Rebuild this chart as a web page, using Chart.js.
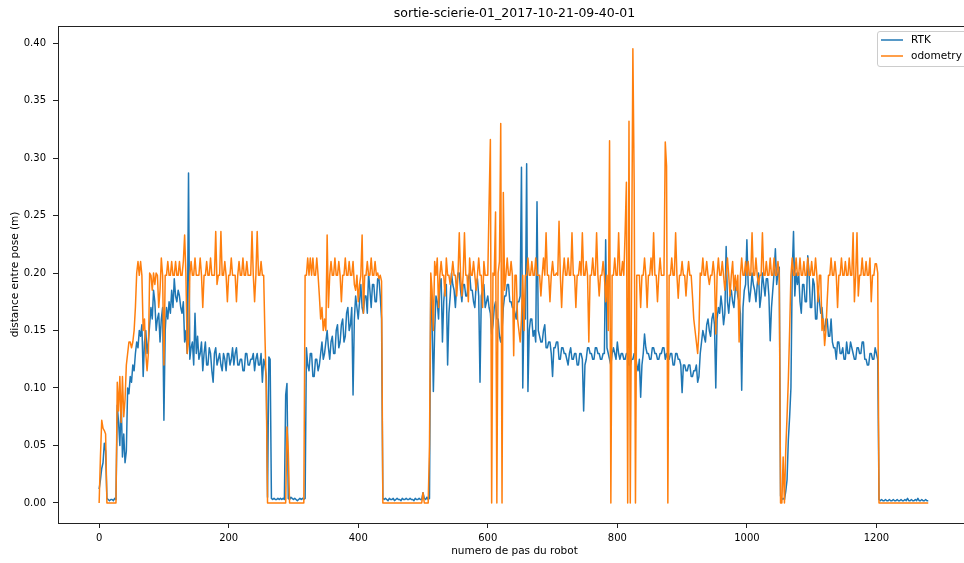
<!DOCTYPE html>
<html><head><meta charset="utf-8">
<script src="https://cdn.jsdelivr.net/npm/chart.js@4/dist/chart.umd.min.js"></script>
<style>html,body{margin:0;padding:0;background:#fff;overflow:hidden;}canvas{display:block;}</style>
</head><body>
<canvas id="c" width="980" height="563" style="width:980px;height:563px"></canvas>
<script>
const TITLE = 'sortie-scierie-01_2017-10-21-09-40-01';
const X_LABEL = 'numero de pas du robot';
const Y_LABEL = 'distance entre pose (m)';
const SERIES_NAMES = ['RTK', 'odometry'];
const STEP = 2; // one sample every 2 robot steps
const X_TICKS = [0, 200, 400, 600, 800, 1000, 1200];
const Y_TICKS = [0, 0.05, 0.10, 0.15, 0.20, 0.25, 0.30, 0.35, 0.40];

const RTK = [
0.012,0.02,0.03,0.035,0.052,0.045,0.004,0.003,0.002,0.003,0.003,0.002,0.004,0.003,0.085,0.07,0.05,0.09,0.04,0.06,
0.035,0.045,0.1,0.095,0.11,0.105,0.12,0.115,0.13,0.14,0.135,0.15,0.145,0.155,0.11,0.14,0.15,0.13,0.14,0.155,
0.17,0.16,0.185,0.175,0.15,0.16,0.165,0.14,0.16,0.17,0.072,0.15,0.17,0.16,0.175,0.165,0.185,0.17,0.195,0.18,
0.175,0.185,0.18,0.17,0.165,0.175,0.14,0.15,0.13,0.287,0.125,0.135,0.14,0.12,0.165,0.13,0.145,0.125,0.13,0.14,
0.115,0.13,0.14,0.12,0.12,0.135,0.13,0.115,0.105,0.13,0.135,0.12,0.125,0.13,0.12,0.115,0.13,0.125,0.115,0.13,
0.13,0.12,0.125,0.135,0.12,0.13,0.135,0.12,0.12,0.125,0.125,0.115,0.115,0.13,0.13,0.12,0.12,0.125,0.125,0.13,
0.115,0.125,0.13,0.12,0.12,0.13,0.105,0.125,0.12,0.11,0.005,0.127,0.125,0.004,0.003,0.004,0.003,0.003,0.004,0.003,
0.004,0.003,0.004,0.003,0.094,0.104,0.004,0.003,0.005,0.004,0.003,0.004,0.003,0.002,0.003,0.004,0.003,0.004,0.003,0.004,
0.135,0.12,0.115,0.13,0.13,0.11,0.11,0.125,0.125,0.115,0.12,0.13,0.14,0.125,0.13,0.14,0.15,0.135,0.125,0.14,
0.145,0.13,0.13,0.15,0.155,0.135,0.14,0.155,0.16,0.14,0.145,0.165,0.17,0.15,0.155,0.17,0.094,0.16,0.18,0.17,
0.16,0.175,0.19,0.17,0.165,0.18,0.18,0.165,0.2,0.185,0.17,0.19,0.19,0.175,0.175,0.195,0.195,0.18,0.16,0.004,
0.003,0.004,0.003,0.002,0.004,0.003,0.003,0.004,0.002,0.003,0.004,0.003,0.003,0.002,0.004,0.003,0.003,0.004,0.003,0.003,
0.004,0.003,0.003,0.002,0.004,0.003,0.003,0.004,0.003,0.003,0.009,0.004,0.003,0.005,0.003,0.004,0.19,0.16,0.097,0.15,
0.18,0.175,0.16,0.19,0.195,0.14,0.175,0.19,0.19,0.12,0.165,0.18,0.2,0.19,0.185,0.17,0.19,0.2,0.2,0.185,
0.175,0.19,0.19,0.18,0.18,0.195,0.2,0.185,0.185,0.175,0.17,0.19,0.195,0.18,0.105,0.18,0.185,0.19,0.17,0.175,
0.18,0.17,0.165,0.147,0.155,0.17,0.175,0.16,0.16,0.145,0.14,0.15,0.17,0.18,0.18,0.19,0.19,0.175,0.175,0.17,
0.17,0.165,0.16,0.175,0.175,0.18,0.292,0.1,0.17,0.16,0.295,0.097,0.15,0.16,0.16,0.145,0.15,0.14,0.262,0.15,
0.145,0.14,0.14,0.15,0.155,0.135,0.135,0.14,0.14,0.13,0.11,0.135,0.135,0.14,0.14,0.125,0.125,0.135,0.135,0.13,
0.13,0.125,0.12,0.13,0.135,0.125,0.125,0.13,0.13,0.12,0.12,0.13,0.13,0.125,0.08,0.12,0.125,0.135,0.135,0.13,
0.13,0.125,0.125,0.135,0.135,0.13,0.13,0.125,0.125,0.13,0.13,0.229,0.135,0.13,0.125,0.12,0.13,0.135,0.13,0.125,
0.14,0.13,0.125,0.13,0.13,0.125,0.125,0.13,0.13,0.12,0.12,0.125,0.125,0.13,0.13,0.12,0.115,0.125,0.092,0.12,
0.13,0.147,0.135,0.13,0.13,0.125,0.125,0.135,0.135,0.13,0.13,0.125,0.125,0.13,0.13,0.135,0.135,0.125,0.13,0.125,
0.125,0.13,0.13,0.12,0.12,0.13,0.13,0.125,0.125,0.12,0.096,0.12,0.12,0.115,0.115,0.12,0.12,0.11,0.11,0.115,
0.115,0.12,0.105,0.11,0.13,0.14,0.15,0.145,0.14,0.155,0.16,0.15,0.145,0.16,0.165,0.155,0.1,0.16,0.17,0.165,
0.18,0.17,0.155,0.165,0.223,0.175,0.165,0.18,0.185,0.175,0.17,0.185,0.19,0.18,0.175,0.165,0.098,0.17,0.185,0.19,
0.229,0.19,0.175,0.185,0.2,0.19,0.185,0.175,0.19,0.2,0.17,0.18,0.2,0.19,0.18,0.195,0.195,0.18,0.141,0.17,
0.185,0.2,0.221,0.19,0.2,0.205,0.006,0.003,0.004,0.003,0.01,0.02,0.055,0.075,0.1,0.2,0.236,0.18,0.2,0.19,
0.2,0.175,0.165,0.19,0.19,0.175,0.175,0.215,0.2,0.17,0.17,0.195,0.19,0.16,0.16,0.185,0.175,0.165,0.17,0.155,
0.15,0.16,0.16,0.145,0.145,0.16,0.14,0.135,0.135,0.125,0.14,0.14,0.13,0.13,0.135,0.125,0.125,0.14,0.13,0.13,
0.14,0.135,0.13,0.125,0.125,0.135,0.135,0.13,0.13,0.14,0.14,0.125,0.125,0.12,0.12,0.13,0.13,0.125,0.125,0.135,
0.13,0.125,0.003,0.002,0.003,0.002,0.002,0.003,0.002,0.002,0.003,0.002,0.002,0.003,0.002,0.002,0.003,0.002,0.002,0.003,
0.002,0.002,0.003,0.002,0.004,0.002,0.002,0.003,0.002,0.002,0.003,0.002,0.004,0.002,0.002,0.003,0.002,0.002,0.003,0.002,
0.002
];

const ODOMETRY = [
0,0.04,0.072,0.065,0.063,0.06,0,0,0,0,0,0,0,0,0.105,0.08,0.11,0.07,0.11,0.075,
0.09,0.12,0.13,0.14,0.14,0.135,0.14,0.15,0.17,0.2,0.21,0.198,0.21,0.198,0.15,0.16,0.13,0.115,0.13,0.2,
0.198,0.185,0.2,0.19,0.2,0.198,0.17,0.185,0.213,0.198,0.12,0.198,0.198,0.21,0.198,0.198,0.21,0.198,0.198,0.21,
0.198,0.198,0.21,0.198,0.198,0.21,0.233,0.198,0.13,0.14,0.198,0.21,0.198,0.198,0.213,0.198,0.198,0.198,0.213,0.198,
0.17,0.198,0.198,0.21,0.198,0.198,0.213,0.198,0.198,0.198,0.236,0.19,0.198,0.198,0.236,0.198,0.198,0.21,0.198,0.175,
0.198,0.198,0.213,0.198,0.198,0.198,0.175,0.198,0.21,0.198,0.198,0.213,0.198,0.198,0.21,0.198,0.198,0.198,0.236,0.198,
0.175,0.198,0.236,0.198,0.198,0.21,0.198,0.198,0.145,0.1,0,0,0,0,0,0,0,0,0,0,
0,0,0,0,0,0.066,0.045,0,0,0,0,0,0,0,0,0,0,0,0,0.198,
0.198,0.213,0.198,0.213,0.198,0.213,0.198,0.198,0.213,0.198,0.18,0.16,0.17,0.15,0.16,0.15,0.233,0.17,0.198,0.21,
0.198,0.198,0.213,0.198,0.198,0.21,0.198,0.175,0.198,0.198,0.213,0.198,0.198,0.21,0.198,0.198,0.21,0.19,0.185,0.198,
0.175,0.19,0.198,0.233,0.165,0.198,0.198,0.21,0.198,0.198,0.213,0.198,0.198,0.21,0.198,0.2,0.195,0.198,0.193,0,
0,0,0,0,0,0,0,0,0,0,0,0,0,0,0,0,0,0,0,0,
0,0,0,0,0,0,0,0,0,0,0.009,0,0,0,0,0.05,0.2,0.185,0.15,0.21,
0.198,0.213,0.17,0.198,0.21,0.198,0.198,0.18,0.213,0.198,0.198,0.19,0.198,0.21,0.198,0.198,0.18,0.198,0.235,0.198,
0.18,0.198,0.235,0.198,0.198,0.175,0.213,0.198,0.198,0.21,0.198,0.185,0.198,0.213,0.198,0.198,0.17,0.21,0.198,0.198,
0.198,0.26,0.316,0,0.2,0.198,0.253,0,0.2,0.21,0.33,0,0.27,0.185,0.198,0.213,0.198,0.198,0.21,0.198,
0.128,0.198,0.198,0.16,0.15,0.14,0.16,0.198,0.15,0.198,0.198,0.213,0.198,0.198,0.21,0.198,0.198,0.213,0.198,0.198,
0.198,0.18,0.198,0.213,0.198,0.235,0.198,0.198,0.175,0.198,0.21,0.198,0.198,0.2,0.198,0.245,0.198,0.17,0.198,0.213,
0.198,0.198,0.213,0.198,0.198,0.235,0.198,0.198,0.17,0.198,0.198,0.21,0.198,0.235,0.198,0.198,0.21,0.198,0.14,0.198,
0.198,0.213,0.198,0.198,0.235,0.198,0.18,0.198,0.198,0.21,0.198,0.175,0.198,0.15,0.315,0,0.198,0.198,0.213,0.198,
0.198,0.235,0.198,0.198,0.21,0.198,0.235,0.279,0,0.332,0,0.2,0.395,0.279,0,0.198,0.198,0.198,0.17,0.198,
0.198,0.213,0.198,0.17,0.198,0.198,0.213,0.198,0.235,0.198,0.198,0.175,0.198,0.213,0.198,0.198,0.198,0.314,0.293,0,
0.198,0.198,0.213,0.198,0.198,0.235,0.198,0.178,0.198,0.198,0.21,0.198,0.198,0.18,0.198,0.21,0.198,0.198,0.18,0.16,
0.15,0.14,0.13,0.15,0.2,0.198,0.213,0.198,0.198,0.21,0.198,0.19,0.198,0.198,0.21,0.198,0.147,0.198,0.213,0.198,
0.198,0.21,0.198,0.185,0.198,0.213,0.198,0.18,0.198,0.21,0.185,0.198,0.185,0.198,0.14,0.198,0.213,0.198,0.198,0.21,
0.198,0.21,0.198,0.198,0.235,0.198,0.198,0.213,0.198,0.19,0.198,0.198,0.235,0.198,0.198,0.21,0.198,0.198,0.213,0.198,
0.198,0.213,0.198,0.198,0.21,0.198,0,0,0.04,0,0.046,0.075,0.107,0.15,0.198,0.213,0.198,0.198,0.213,0.198,
0.198,0.213,0.198,0.198,0.21,0.198,0.198,0.213,0.198,0.198,0.21,0.198,0.198,0.213,0.198,0.175,0.198,0.198,0.15,0.16,
0.137,0.15,0.176,0.198,0.198,0.213,0.198,0.198,0.21,0.198,0.17,0.198,0.198,0.213,0.198,0.198,0.21,0.198,0.198,0.213,
0.198,0.198,0.235,0.175,0.198,0.235,0.18,0.198,0.198,0.213,0.198,0.198,0.21,0.198,0.198,0.213,0.175,0.198,0.198,0.208,
0.208,0.2,0,0,0,0,0,0,0,0,0,0,0,0,0,0,0,0,0,0,
0,0,0,0,0,0,0,0,0,0,0,0,0,0,0,0,0,0,0,0,
0
];

const STEPS = RTK.map((_, i) => i * STEP);
const COLORS = ['#1f77b4', '#ff7f0e'];
const FONT = "'DejaVu Sans', sans-serif";

const toPts = arr => arr.map((v, i) => ({ x: STEPS[i], y: v }));

const decor = {
  id: 'decor',
  afterDatasetsDraw(chart) {
    const { ctx, chartArea: ca } = chart;
    ctx.save();
    ctx.strokeStyle = '#222';
    ctx.lineWidth = 1;
    ctx.strokeRect(Math.round(ca.left) + 0.5, Math.round(ca.top) + 0.5,
      Math.round(ca.right - ca.left), Math.round(ca.bottom - ca.top));
    ctx.restore();
  },
  afterDraw(chart) {
    const { ctx, chartArea: ca } = chart;
    const cx = (ca.left + ca.right) / 2;
    ctx.save();
    ctx.fillStyle = '#000';
    ctx.textAlign = 'center';
    ctx.textBaseline = 'middle';
    ctx.font = '12.5px ' + FONT;
    ctx.fillText(TITLE, cx, 14);
    ctx.font = '10.5px ' + FONT;
    ctx.fillText(X_LABEL, cx, 551);
    ctx.save();
    ctx.translate(15, (ca.top + ca.bottom) / 2);
    ctx.rotate(-Math.PI / 2);
    ctx.fillText(Y_LABEL, 0, 0);
    ctx.restore();
    // legend box (matplotlib style, upper right)
    const bx = 877.5, by = 31.5, bw = 92, bh = 35, r = 2.5;
    ctx.beginPath();
    ctx.moveTo(bx + r, by);
    ctx.lineTo(bx + bw - r, by);
    ctx.arcTo(bx + bw, by, bx + bw, by + r, r);
    ctx.lineTo(bx + bw, by + bh - r);
    ctx.arcTo(bx + bw, by + bh, bx + bw - r, by + bh, r);
    ctx.lineTo(bx + r, by + bh);
    ctx.arcTo(bx, by + bh, bx, by + bh - r, r);
    ctx.lineTo(bx, by + r);
    ctx.arcTo(bx, by, bx + r, by, r);
    ctx.closePath();
    ctx.fillStyle = 'rgba(255,255,255,0.8)';
    ctx.fill();
    ctx.strokeStyle = '#cccccc';
    ctx.lineWidth = 1;
    ctx.stroke();
    ctx.textAlign = 'left';
    ctx.font = '10.5px ' + FONT;
    SERIES_NAMES.forEach((name, i) => {
      const y = 40 + i * 16;
      ctx.strokeStyle = COLORS[i];
      ctx.lineWidth = 1.5;
      ctx.beginPath();
      ctx.moveTo(881, y);
      ctx.lineTo(903, y);
      ctx.stroke();
      ctx.fillStyle = '#000';
      ctx.fillText(name, 911, y);
    });
    ctx.restore();
  }
};

const lineDs = (i, data, order) => ({
  label: SERIES_NAMES[i], data: toPts(data), borderColor: COLORS[i], backgroundColor: COLORS[i],
  borderWidth: 1.5, pointRadius: 0, tension: 0, fill: false, order,
  borderJoinStyle: 'round', borderCapStyle: 'butt'
});

new Chart(document.getElementById('c').getContext('2d'), {
  type: 'line',
  data: { datasets: [lineDs(0, RTK, 2), lineDs(1, ODOMETRY, 1)] },
  options: {
    responsive: false, animation: false, devicePixelRatio: 1,
    layout: { padding: { top: 26, left: 0, right: 9, bottom: 0 } },
    plugins: { legend: { display: false }, tooltip: { enabled: false }, title: { display: false } },
    scales: {
      x: {
        type: 'linear', min: -63.5, max: 1346,
        afterFit(s) { s.height = 40; },
        afterBuildTicks(s) { s.ticks = X_TICKS.map(v => ({ value: v })); },
        grid: { display: true, drawOnChartArea: false, drawTicks: true, tickLength: 5, color: '#222', lineWidth: 1 },
        border: { display: false },
        ticks: { font: { family: FONT, size: 10 }, color: '#000', padding: 4, maxRotation: 0, autoSkip: false,
          callback: v => String(v) }
      },
      y: {
        type: 'linear', min: -0.0174, max: 0.4148,
        afterFit(s) { s.width = 58; },
        afterBuildTicks(s) { s.ticks = Y_TICKS.map(v => ({ value: v })); },
        grid: { display: true, drawOnChartArea: false, drawTicks: true, tickLength: 5, color: '#222', lineWidth: 1 },
        border: { display: false },
        ticks: { font: { family: FONT, size: 10 }, color: '#000', padding: 7, autoSkip: false,
          callback: v => v.toFixed(2) }
      }
    }
  },
  plugins: [decor]
});
</script>
</body></html>
